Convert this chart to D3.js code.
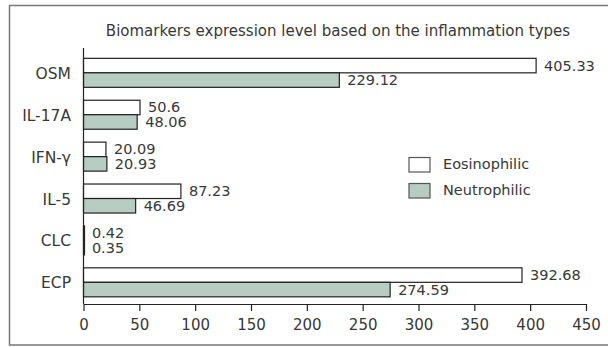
<!DOCTYPE html>
<html><head><meta charset="utf-8">
<script src="https://cdn.jsdelivr.net/npm/d3@7"></script>
<style>body{margin:0;background:#fff}svg{display:block}text{font-family:"DejaVu Sans",sans-serif;fill:#383838}</style>
</head><body><svg id="c" width="608" height="347"></svg>
<script>
const categories = ["OSM","IL-17A","IFN-γ","IL-5","CLC","ECP"];
const seriesNames = ["Eosinophilic","Neutrophilic"];
const eosinophilic = [405.33,50.6,20.09,87.23,0.42,392.68];
const neutrophilic = [229.12,48.06,20.93,46.69,0.35,274.59];
const eosLabels = ["405.33","50.6","20.09","87.23","0.42","392.68"];
const neuLabels = ["229.12","48.06","20.93","46.69","0.35","274.59"];
const xTicks = [0,50,100,150,200,250,300,350,400,450];
const title = "Biomarkers expression level based on the inflammation types";

const colors = {Eosinophilic:"#ffffff", Neutrophilic:"#b7ccc2"};
const svg = d3.select("#c");

// outer frame (right side open as in reference)
svg.append("path").attr("d","M608,5.5 H9.5 V345 H608").attr("fill","none").attr("stroke","#7a7a7a").attr("stroke-width",1.5);

const x = d3.scaleLinear().domain([0,450]).range([83.5,586]);
const y = d3.scaleBand().domain(categories).range([48,304]).paddingInner(0.308).paddingOuter(0.209).align(0.59);
const ys = d3.scaleBand().domain(seriesNames).range([0,y.bandwidth()]);

svg.append("text").attr("x",338).attr("y",36).attr("text-anchor","middle").style("font-size","15px").text(title);

const data = [];
categories.forEach((c,i)=>{
  data.push({c,s:"Eosinophilic",v:eosinophilic[i],l:eosLabels[i]});
  data.push({c,s:"Neutrophilic",v:neutrophilic[i],l:neuLabels[i]});
});

const g = svg.append("g");
g.selectAll("rect.bar").data(data).join("rect").attr("class","bar")
 .attr("x",x(0)).attr("y",d=>y(d.c)+ys(d.s)).attr("width",d=>Math.max(1,x(d.v)-x(0))).attr("height",ys.bandwidth())
 .attr("fill",d=>colors[d.s]).attr("stroke","#222").attr("stroke-width",1.2);

g.selectAll("text.val").data(data).join("text").attr("class","val")
 .attr("x",d=>x(d.v)+8).attr("y",d=>y(d.c)+ys(d.s)+ys.bandwidth()/2+1).attr("dominant-baseline","middle")
 .style("font-size","14.5px").text(d=>d.l);

// y axis line and labels
svg.append("line").attr("x1",x(0)).attr("x2",x(0)).attr("y1",48).attr("y2",304).attr("stroke","#222").attr("stroke-width",1.2);
svg.selectAll("text.cat").data(categories).join("text").attr("class","cat")
 .attr("x",71).attr("y",d=>y(d)+y.bandwidth()/2+1.5).attr("text-anchor","end").attr("dominant-baseline","middle")
 .style("font-size","15.5px").text(d=>d);

// x axis
const ax = svg.append("g").attr("transform","translate(0,304)")
 .call(d3.axisBottom(x).tickValues(xTicks).tickSize(7).tickSizeOuter(0).tickPadding(8));
ax.select(".domain").attr("stroke","#222").attr("stroke-width",1.2);
ax.selectAll(".tick line").attr("stroke","#222").attr("stroke-width",1.2);
ax.selectAll(".tick text").style("font-size","15px").style("font-family",'"DejaVu Sans",sans-serif').attr("fill","#383838");

// legend
const lg = svg.append("g");
seriesNames.forEach((s,i)=>{
  const yy = 157.5 + i*26;
  lg.append("rect").attr("x",409).attr("y",yy).attr("width",21).attr("height",14.5).attr("fill",colors[s]).attr("stroke","#555").attr("stroke-width",1.2);
  lg.append("text").attr("x",443).attr("y",yy+7.5).attr("dominant-baseline","middle").style("font-size","14.5px").text(s);
});
</script></body></html>
